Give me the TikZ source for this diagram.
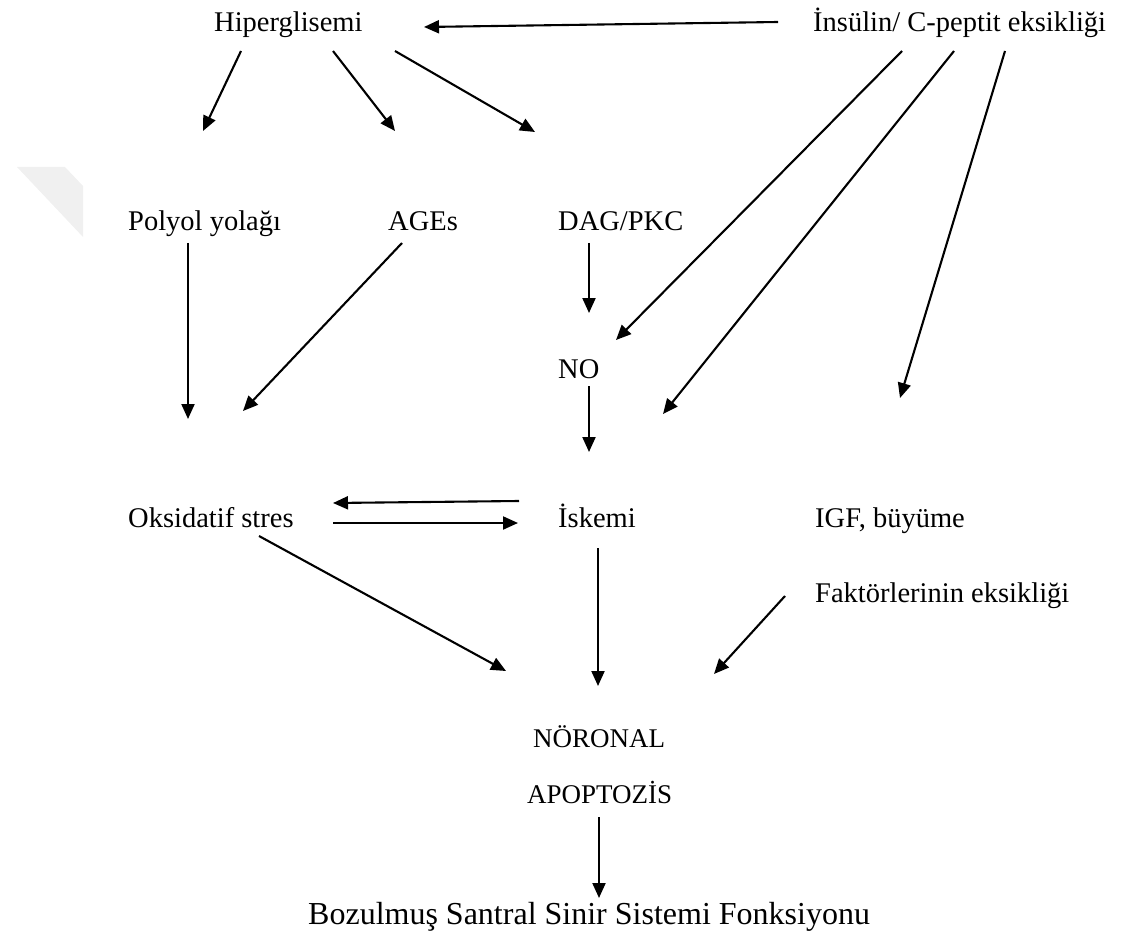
\documentclass[tikz,border=0pt]{standalone}
\usepackage{fontspec}
\setmainfont{Liberation Serif}
\usetikzlibrary{arrows.meta}
\begin{document}
\begin{tikzpicture}[x=1pt,y=-1pt,
  lbl/.style={anchor=base west,inner sep=0pt,font=\fontsize{28.5}{34}\selectfont},
  lblsm/.style={anchor=base west,inner sep=0pt,font=\fontsize{27}{32}\selectfont},
  lblbig/.style={anchor=base west,inner sep=0pt,font=\fontsize{32}{38}\selectfont},
  arr/.style={line width=2.1pt,-{Triangle[length=15pt,width=13pt]}}]
\useasboundingbox (0,0) rectangle (1121,941);
% watermark
\fill[black!6] (17,167) -- (65,167) -- (83,186) -- (83,237) -- cycle;
% labels
\node[lbl] (hip) at (214,32) {Hiperglisemi};
\node[lbl] (ins) at (813,32) {İnsülin/ C-peptit eksikliği};
\node[lbl] (pol) at (128,231) {Polyol yolağı};
\node[lbl] (age) at (388,231) {AGEs};
\node[lbl] (dag) at (558,231) {DAG/PKC};
\node[lbl] (no) at (558,378) {NO};
\node[lbl] (oks) at (128,527) {Oksidatif stres};
\node[lbl] (isk) at (558,527) {İskemi};
\node[lbl] (igf) at (815,527) {IGF, büyüme};
\node[lbl] (fak) at (815,602) {Faktörlerinin eksikliği};
\node[lblsm] (nor) at (533,747) {NÖRONAL};
\node[lblsm] (apo) at (527,803) {APOPTOZİS};
\node[lblbig] (boz) at (308,924) {Bozulmuş Santral Sinir Sistemi Fonksiyonu};
% connector ends
\coordinate (e1a) at (778,22);  \coordinate (e1b) at (424,27);
\coordinate (e2a) at (241,51);  \coordinate (e2b) at (203,131);
\coordinate (e3a) at (333,51);  \coordinate (e3b) at (395,131);
\coordinate (e4a) at (395,51);  \coordinate (e4b) at (535,132);
\coordinate (e5a) at (902,51);  \coordinate (e5b) at (616,340);
\coordinate (e6a) at (954,51);  \coordinate (e6b) at (663,414);
\coordinate (e7a) at (1005,51); \coordinate (e7b) at (900,398);
\coordinate (e8a) at (188,243); \coordinate (e8b) at (188,419);
\coordinate (e9a) at (402,243); \coordinate (e9b) at (243,411);
\coordinate (e10a) at (589,243); \coordinate (e10b) at (589,313);
\coordinate (e11a) at (589,386); \coordinate (e11b) at (589,452);
\coordinate (e12a) at (519,501); \coordinate (e12b) at (333,503);
\coordinate (e13a) at (333,523); \coordinate (e13b) at (518,523);
\coordinate (e14a) at (259,536); \coordinate (e14b) at (506,671);
\coordinate (e15a) at (598,548); \coordinate (e15b) at (598,686);
\coordinate (e16a) at (785,596); \coordinate (e16b) at (714,674);
\coordinate (e17a) at (599,817); \coordinate (e17b) at (599,898);
% connectors
\draw[arr] (e1a) -- (e1b);
\draw[arr] (e2a) -- (e2b);
\draw[arr] (e3a) -- (e3b);
\draw[arr] (e4a) -- (e4b);
\draw[arr] (e5a) -- (e5b);
\draw[arr] (e6a) -- (e6b);
\draw[arr] (e7a) -- (e7b);
\draw[arr] (e8a) -- (e8b);
\draw[arr] (e9a) -- (e9b);
\draw[arr] (e10a) -- (e10b);
\draw[arr] (e11a) -- (e11b);
\draw[arr] (e12a) -- (e12b);
\draw[arr] (e13a) -- (e13b);
\draw[arr] (e14a) -- (e14b);
\draw[arr] (e15a) -- (e15b);
\draw[arr] (e16a) -- (e16b);
\draw[arr] (e17a) -- (e17b);
\end{tikzpicture}
\end{document}
